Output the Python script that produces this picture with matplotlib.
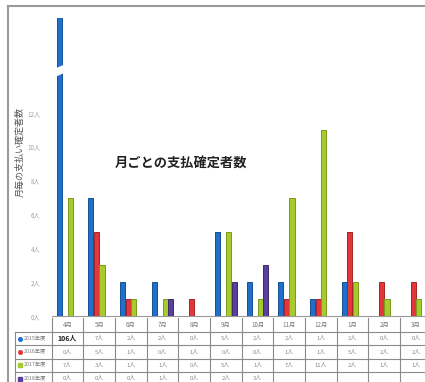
import numpy as np
import matplotlib
matplotlib.use('Agg')
import matplotlib.pyplot as plt
from matplotlib.lines import Line2D
from matplotlib.patches import Polygon

plt.rcParams['font.family'] = ['Noto Sans CJK JP', 'DejaVu Sans']

months = ['4月', '5月', '6月', '7月', '8月', '9月', '10月', '11月', '12月', '1月', '2月', '3月']
series_names = ['2015年度', '2016年度', '2017年度', '2018年度']
fy2015 = [106, 7, 2, 2, 0, 5, 2, 2, 1, 2, 0, 0]
fy2016 = [0, 5, 1, 0, 1, 0, 0, 1, 1, 5, 2, 2]
fy2017 = [7, 3, 1, 1, 0, 5, 1, 7, 11, 2, 1, 1]
fy2018 = [0, 0, 0, 1, 0, 2, 3, None, None, None, None, None]
yticks = [0, 2, 4, 6, 8, 10, 12]

series = [fy2015, fy2016, fy2017, fy2018]
colors = ['#1f6fcc', '#e2383b', '#a5cc2c', '#5b3f9e']
edges = ['#174f92', '#a32426', '#7a9a1c', '#3d2a6e']
markers = ['o', 'o', 's', 's']

W, H = 425, 382
def fx(x):
    return x / W
def fy(y):
    return 1 - y / H

fig = plt.figure(figsize=(W / 100, H / 100), dpi=100)

# plot area runs a little past the right edge, like the cropped sheet
x0, x1 = 51.7, 431.7
base, top = 316, 18
ax = fig.add_axes([fx(x0), fy(base), (x1 - x0) / W, (base - top) / H])
unit = 16.9
ax.set_xlim(-0.5, len(months) - 0.5)
ax.set_ylim(0, (base - top) / unit)

bw, step = 0.16, 0.175
x = np.arange(len(months))
for i, vals in enumerate(series):
    for j, v in enumerate(vals):
        if v is None or v == 0:
            continue
        ax.bar(x[j] + (i - 1.5) * step, v, bw, color=colors[i],
               edgecolor=edges[i], linewidth=0.7)

# axis break on the tall April bar
bx = x[0] - 1.5 * step
ax.add_patch(Polygon([[bx - 0.12, 14.15], [bx + 0.12, 14.35],
                      [bx + 0.12, 14.85], [bx - 0.12, 14.65]],
                     closed=True, facecolor='white', edgecolor='none', zorder=5))

for s in ['top', 'right', 'left']:
    ax.spines[s].set_visible(False)
ax.spines['bottom'].set_color('#999999')
ax.spines['bottom'].set_linewidth(0.8)
ax.set_xticks([])
ax.set_yticks(yticks)
ax.set_yticklabels([f'{t}人' for t in yticks], fontsize=4.5, color='#a0a0a0')
ax.tick_params(axis='y', length=0, pad=8)

ax.text(0.34, 0.51, '月ごとの支払確定者数', transform=ax.transAxes, ha='center',
        va='center', fontsize=9.5, fontweight='bold', color='#222222')

fig.text(fx(20), fy(152), '月毎の支払い確定者数', rotation=90, ha='center',
         va='center', fontsize=6.5, color='#555555')

# data table under the axis
col_w = (x1 - x0) / len(months)
row_top = [318, 332, 345.3, 358.6, 371.9, 385.2]
line_kw = dict(color='#8a8a8a', linewidth=0.8, transform=fig.transFigure)
for y in row_top[1:-1]:
    fig.add_artist(Line2D([fx(15), fx(x1)], [fy(y), fy(y)], **line_kw))
for k in range(len(months) + 1):
    xx = x0 + k * col_w
    fig.add_artist(Line2D([fx(xx), fx(xx)], [fy(row_top[0]), fy(H)], **line_kw))
fig.add_artist(Line2D([fx(15), fx(15)], [fy(row_top[1]), fy(H)], **line_kw))

for k, m in enumerate(months):
    cx = x0 + (k + 0.5) * col_w
    fig.text(fx(cx), fy((row_top[0] + row_top[1]) / 2), m, ha='center',
             va='center', fontsize=4.5, color='#777777')

for i, vals in enumerate(series):
    cy = (row_top[i + 1] + row_top[i + 2]) / 2
    fig.add_artist(Line2D([fx(20)], [fy(cy)], marker=markers[i], markersize=2.6,
                          color=colors[i], transform=fig.transFigure))
    fig.text(fx(24), fy(cy), series_names[i], ha='left', va='center',
             fontsize=3.8, color='#777777')
    for k, v in enumerate(vals):
        if v is None:
            continue
        cx = x0 + (k + 0.5) * col_w
        big = v > 20
        fig.text(fx(cx), fy(cy), f'{v}人', ha='center', va='center',
                 fontsize=5 if big else 4.2,
                 fontweight='bold' if big else 'normal',
                 color='#222222' if big else '#888888')

# grey frame around the sheet
frame_kw = dict(color='#9a9a9a', linewidth=1.5, transform=fig.transFigure)
fig.add_artist(Line2D([fx(7.5), fx(7.5)], [fy(5.5), fy(H)], **frame_kw))
fig.add_artist(Line2D([fx(7.5), fx(W)], [fy(5.5), fy(5.5)], **frame_kw))

fig.savefig('out.png', dpi=100)
